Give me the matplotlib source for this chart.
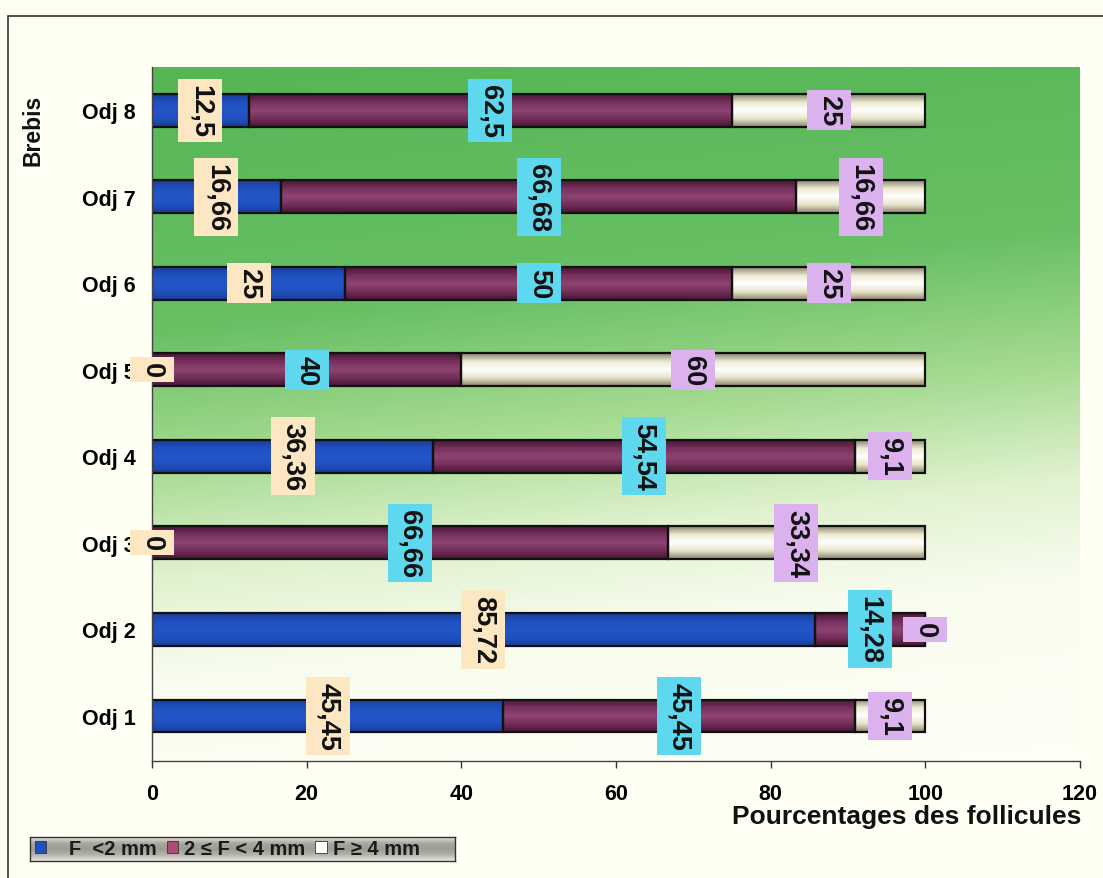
import numpy as np
import matplotlib
matplotlib.use("Agg")
import matplotlib.pyplot as plt
from matplotlib.colors import LinearSegmentedColormap, to_rgb
from matplotlib.patches import Rectangle, Patch
from matplotlib.path import Path

plt.rcParams['font.family'] = ['Liberation Sans', 'DejaVu Sans']

# Follicle size distribution per ewe (percent)
categories = ['Odj 1', 'Odj 2', 'Odj 3', 'Odj 4', 'Odj 5', 'Odj 6', 'Odj 7', 'Odj 8']
small_follicles = [45.45, 85.72, 0, 36.36, 0, 25, 16.66, 12.5]
medium_follicles = [45.45, 14.28, 66.66, 54.54, 40, 50, 66.68, 62.5]
large_follicles = [9.1, 0, 33.34, 9.1, 60, 25, 16.66, 25]
series_names = ['   F  <2 mm', '2 \u2264 F < 4 mm', 'F \u2265 4 mm']
x_ticks = [0, 20, 40, 60, 80, 100, 120]

W, H = 1103, 879
fig = plt.figure(figsize=(W / 100, H / 100), dpi=100)
fig.patch.set_facecolor('#fffff3')

# outer frame
fig.add_artist(Rectangle((8 / W, -0.01), 1.02, 1 - 17 / H + 0.01, transform=fig.transFigure,
                         fill=False, edgecolor='#333333', lw=1.2))

ax = fig.add_axes([152 / W, 1 - 762 / H, (1080 - 152) / W, (762 - 68) / H])
ax.set_facecolor('none')

# plot-area gradient: green at the top fading to pale cream below
hh, ww = 300, 300
yy, xx = np.mgrid[0:hh, 0:ww]
t = yy / (hh - 1) + 0.15 * xx / (ww - 1)
stops = [0.0, 0.38, 0.58, 0.74, 0.88, 1.2]
cols = np.array([to_rgb(c) for c in ['#55b656', '#68bf64', '#a6db92', '#e0f2cf', '#f8fcee', '#fffff6']])
img = np.zeros((hh, ww, 3))
for k in range(3):
    img[..., k] = np.interp(t, stops, cols[:, k])
ax.imshow(img, extent=[0, 1, 0, 1], transform=ax.transAxes, aspect='auto', zorder=0)


def label_box(x0, y0, width, height, mutation_size):
    """Rectangle with a small pad along the text and a wider pad across it (pixels)."""
    px, py = 5, 9
    return Path([(x0 - px, y0 - py), (x0 + width + px, y0 - py),
                 (x0 + width + px, y0 + height + py), (x0 - px, y0 + height + py),
                 (x0 - px, y0 - py)], closed=True)


y = np.arange(1, len(categories) + 1)
bar_h = 0.38
series = [small_follicles, medium_follicles, large_follicles]
base_cols = ['#2050c0', '#7e3360', '#f6f2d8']
shade_cols = [
    ['#183e98', '#2050c0', '#2456c8', '#2050c0', '#183e98'],
    ['#461830', '#742e5a', '#8e4470', '#783060', '#461830'],
    ['#8a8470', '#e8e4c8', '#ffffff', '#eeead0', '#8a8470'],
]
label_cols = ['#fde6c2', '#5ed8ef', '#dcb2ee']

left = np.zeros(len(categories))
grad = np.linspace(0, 1, 64).reshape(-1, 1)
for vals, bc, sc, lc in zip(series, base_cols, shade_cols, label_cols):
    vals = np.array(vals, dtype=float)
    bars = ax.barh(y, vals, left=left, height=bar_h, color=bc, edgecolor='#111111',
                   lw=1.6, zorder=3)
    cmap = LinearSegmentedColormap.from_list('shade', sc)
    for p in bars.patches:
        if p.get_width() <= 0:
            continue
        x0, y0 = p.get_x(), p.get_y()
        im = ax.imshow(grad, extent=[x0, x0 + p.get_width(), y0, y0 + p.get_height()],
                       origin='lower', aspect='auto', cmap=cmap, zorder=3.1)
        im.set_clip_path(p)
        p.set_facecolor('none')
        p.set_zorder(3.2)
    centers = left + vals / 2
    for yc, xc, v in zip(y, centers, vals):
        txt = f"{v:g}".replace('.', ',')
        ax.text(xc, yc, txt, rotation=270, ha='center', va='center', fontsize=19.5,
                fontweight='bold', color='#111111', zorder=5, clip_on=False,
                bbox=dict(boxstyle=label_box, facecolor=lc, edgecolor='none'))
    left = left + vals

ax.set_xlim(0, 120)
ax.set_ylim(0.48, 8.5)
ax.set_xticks(x_ticks)
ax.set_xticklabels([str(v) for v in x_ticks], fontsize=15.5, fontweight='bold')
ax.set_yticks(y)
ax.set_yticklabels(categories, fontsize=15.5, fontweight='bold')
ax.tick_params(axis='x', direction='out', length=5, width=1, color='#333333', pad=10.5)
ax.tick_params(axis='y', length=0, pad=12)
for s in ['top', 'right']:
    ax.spines[s].set_visible(False)
for s in ['left', 'bottom']:
    ax.spines[s].set_color('#444444')
    ax.spines[s].set_linewidth(1.0)
    ax.spines[s].set_zorder(4)

fig.text(33 / W, 1 - 130 / H, 'Brebis', rotation=90, ha='center', va='center',
         fontsize=16.5, fontweight='bold', color='#111111')
fig.text(1081 / W, 1 - 824 / H, 'Pourcentages des follicules', ha='right', va='baseline',
         fontsize=19, fontweight='bold', color='#111111')

# legend with silver gradient box
lx0, ly0, lw_, lh_ = 30 / W, 1 - 862 / H, 425 / W, 24 / H
lax = fig.add_axes([lx0, ly0, lw_, lh_])
lgrad = LinearSegmentedColormap.from_list('silver', ['#e4e4dc', '#a8a8a0', '#9c9c94', '#b4b4ac', '#e8e8e0'])
lax.imshow(np.linspace(0, 1, 32).reshape(-1, 1), aspect='auto', cmap=lgrad, extent=[0, 1, 0, 1])
lax.set_xticks([]); lax.set_yticks([])
for s in lax.spines.values():
    s.set_color('#333333'); s.set_linewidth(1.0)
handles = [Patch(facecolor='#2050c0', edgecolor='#333333', lw=0.6),
           Patch(facecolor='#b04a72', edgecolor='#333333', lw=0.6),
           Patch(facecolor='#ffffff', edgecolor='#333333', lw=0.6)]
leg = lax.legend(handles, series_names, loc='center left', bbox_to_anchor=(0.012, 0.5),
                 ncol=3, frameon=False,
                 prop=dict(size=14.5, weight='bold'), handlelength=0.55, handleheight=0.55,
                 handletextpad=0.3, columnspacing=0.5, borderpad=0, borderaxespad=0)
for tx in leg.get_texts():
    tx.set_color('#1a1a1a')

fig.savefig('out.png', dpi=100, facecolor=fig.get_facecolor())
